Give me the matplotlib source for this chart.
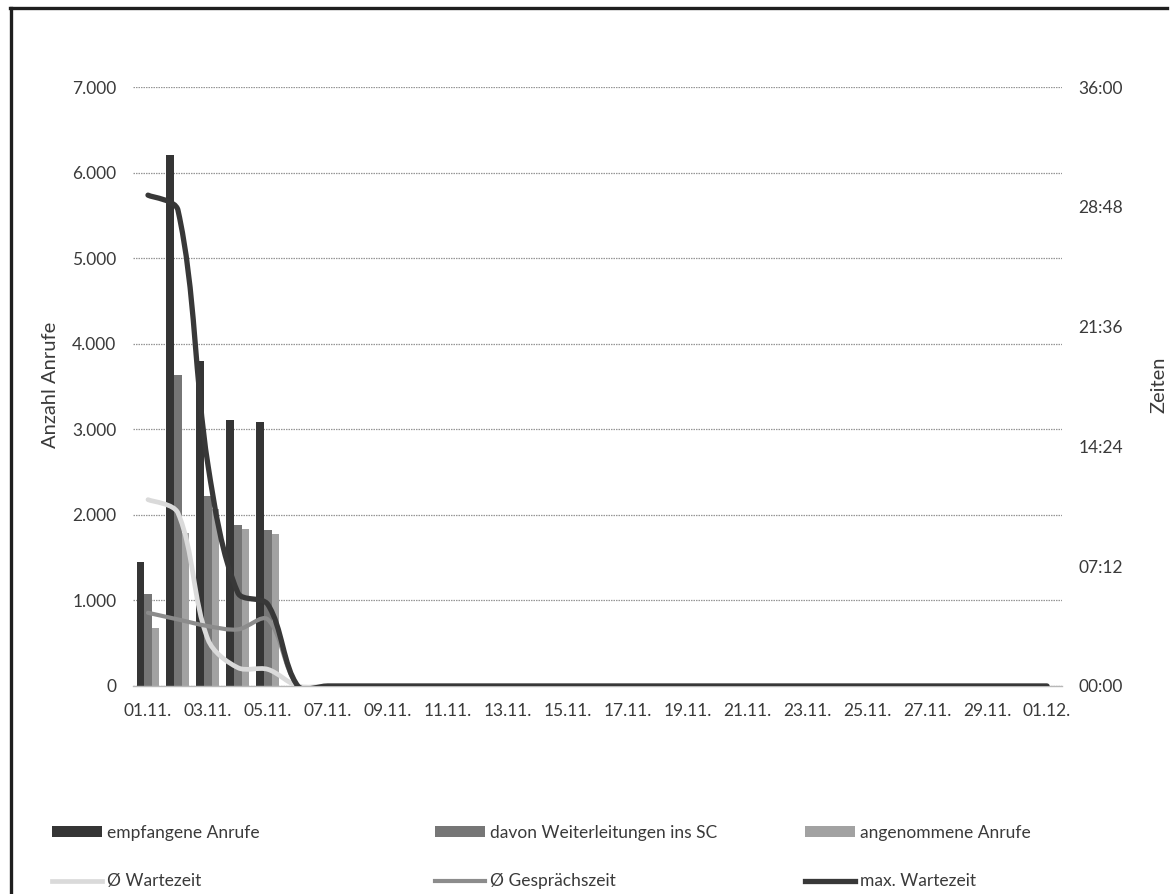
import matplotlib
matplotlib.use("Agg")
import matplotlib.pyplot as plt
from matplotlib.path import Path
from matplotlib.patches import PathPatch, Patch
from matplotlib.lines import Line2D
from matplotlib.ticker import FixedLocator, FuncFormatter
import numpy as np

plt.rcParams["font.family"] = ["Lato", "DejaVu Sans"]

# --- data -------------------------------------------------------------------
tage = ["01.11.", "02.11.", "03.11.", "04.11.", "05.11.", "06.11.", "07.11.",
        "08.11.", "09.11.", "10.11.", "11.11.", "12.11.", "13.11.", "14.11.",
        "15.11.", "16.11.", "17.11.", "18.11.", "19.11.", "20.11.", "21.11.",
        "22.11.", "23.11.", "24.11.", "25.11.", "26.11.", "27.11.", "28.11.",
        "29.11.", "30.11.", "01.12."]

empfangene_anrufe = [1450, 6210, 3800, 3110, 3090, 0, 0, 0, 0, 0, 0, 0, 0, 0, 0, 0,
                     0, 0, 0, 0, 0, 0, 0, 0, 0, 0, 0, 0, 0, 0, 0]
weiterleitungen_sc = [1070, 3630, 2220, 1880, 1820, 0, 0, 0, 0, 0, 0, 0, 0, 0, 0, 0,
                      0, 0, 0, 0, 0, 0, 0, 0, 0, 0, 0, 0, 0, 0, 0]
angenommene_anrufe = [680, 1790, 2070, 1830, 1780, 0, 0, 0, 0, 0, 0, 0, 0, 0, 0, 0,
                      0, 0, 0, 0, 0, 0, 0, 0, 0, 0, 0, 0, 0, 0, 0]

# times in hours
wartezeit_avg = [11.2, 10.4, 2.8, 1.1, 1.0, 0, 0, 0, 0, 0, 0, 0, 0, 0, 0, 0,
                 0, 0, 0, 0, 0, 0, 0, 0, 0, 0, 0, 0, 0, 0, 0]
gespraechszeit_avg = [4.4, 4.0, 3.6, 3.4, 4.0, 0, 0, 0, 0, 0, 0, 0, 0, 0, 0, 0,
                      0, 0, 0, 0, 0, 0, 0, 0, 0, 0, 0, 0, 0, 0, 0]
wartezeit_max = [29.5, 28.6, 13.3, 5.6, 4.9, 0, 0, 0, 0, 0, 0, 0, 0, 0, 0, 0,
                 0, 0, 0, 0, 0, 0, 0, 0, 0, 0, 0, 0, 0, 0, 0]

# --- styling ----------------------------------------------------------------
TXT = "#3a3a3a"
C_EMPF = "#353535"
C_WEIT = "#767676"
C_ANGE = "#a2a2a2"
C_WART = "#dadada"
C_GESP = "#8c8c8c"
C_MAX = "#383838"

W, H = 1171, 894
fig = plt.figure(figsize=(W / 100, H / 100), dpi=100)
fig.patch.set_facecolor("white")

x0, x1, y_bot, y_top = 133, 1062, 686, 87
ax = fig.add_axes([x0 / W, 1 - y_bot / H, (x1 - x0) / W, (y_bot - y_top) / H])
ax2 = ax.twinx()

n = len(tage)
x = np.arange(n)
bw = 0.255

ax.bar(x - bw, empfangene_anrufe, bw, color=C_EMPF, zorder=2)
ax.bar(x, weiterleitungen_sc, bw, color=C_WEIT, zorder=2)
ax.bar(x + bw, angenommene_anrufe, bw, color=C_ANGE, zorder=2)

ax.set_xlim(-0.5, n - 0.5)
ax.set_ylim(0, 7000)
ax.yaxis.set_major_locator(FixedLocator(np.arange(0, 7001, 1000)))
ax.yaxis.set_major_formatter(FuncFormatter(lambda v, p: f"{v:,.0f}".replace(",", ".")))
ax.grid(axis="y", color="#959595", linestyle=(0, (1.2, 0.8)), linewidth=0.9, zorder=0)
ax.set_axisbelow(True)

ax.set_xticks(x[::2])
ax.set_xticklabels(tage[::2])

for a in (ax, ax2):
    for s in a.spines.values():
        s.set_visible(False)
ax.spines["bottom"].set_visible(True)
ax.spines["bottom"].set_color("#b8b8b8")
ax.spines["bottom"].set_linewidth(1.0)

ax.tick_params(axis="both", length=0, labelsize=12.5, labelcolor=TXT)
ax.tick_params(axis="y", pad=12)
ax.tick_params(axis="x", pad=12)

ax2.set_ylim(0, 1.5)


def smooth_path(a, xs, ys, k=1 / 3):
    """Bezier path through the points; tangents weighted by on-screen segment length."""
    pts = a.transData.transform(np.column_stack([xs, ys]))
    m = len(pts)
    seg = np.hypot(*np.diff(pts, axis=0).T)
    verts = [pts[0]]
    codes = [Path.MOVETO]
    for i in range(m - 1):
        p, q = pts[i], pts[i + 1]
        if i > 0:
            f = k * seg[i] / (seg[i - 1] + seg[i])
            c1 = p + (q - pts[i - 1]) * f
        else:
            c1 = p + (q - p) * k / 2
        if i + 2 < m:
            f = k * seg[i] / (seg[i] + seg[i + 1])
            c2 = q - (pts[i + 2] - p) * f
        else:
            c2 = q - (q - p) * k / 2
        verts += [c1, c2, q]
        codes += [Path.CURVE4] * 3
    verts = a.transData.inverted().transform(np.array(verts))
    return Path(verts, codes)


def to_days(hours):
    return [h / 24 for h in hours]


for vals, col, lw in [(wartezeit_avg, C_WART, 3.4),
                      (gespraechszeit_avg, C_GESP, 3.0),
                      (wartezeit_max, C_MAX, 3.8)]:
    p = smooth_path(ax2, x.astype(float), to_days(vals))
    ax2.add_patch(PathPatch(p, fill=False, edgecolor=col, linewidth=lw,
                            capstyle="round", joinstyle="round"))

ax2.yaxis.set_major_locator(FixedLocator(np.arange(0, 1.51, 0.3)))


def fmt_time(v, p):
    mins = int(round(v * 1440))
    return f"{mins // 60:02d}:{mins % 60:02d}"


ax2.yaxis.set_major_formatter(FuncFormatter(fmt_time))
ax2.tick_params(axis="y", length=0, labelsize=12.5, labelcolor=TXT, pad=12)

fig.text(50 / W, 1 - 385 / H, "Anzahl Anrufe", rotation=90, ha="center", va="center",
         fontsize=14.5, color=TXT)
fig.text(1159 / W, 1 - 385 / H, "Zeiten", rotation=90, ha="center", va="center",
         fontsize=14.5, color=TXT)

# --- legend: three columns, two rows --------------------------------------
columns = [
    [(Patch(facecolor=C_EMPF), "empfangene Anrufe"),
     (Line2D([], [], color=C_WART, lw=3.4), "Ø Wartezeit")],
    [(Patch(facecolor=C_WEIT), "davon Weiterleitungen ins SC"),
     (Line2D([], [], color=C_GESP, lw=3.0), "Ø Gesprächszeit")],
    [(Patch(facecolor=C_ANGE), "angenommene Anrufe"),
     (Line2D([], [], color=C_MAX, lw=3.8), "max. Wartezeit")],
]
for xs_, col in zip([52, 435, 805], columns):
    fig.legend([h for h, _ in col], [l for _, l in col], loc="center left",
               bbox_to_anchor=(xs_ / W, 1 - 857 / H), frameon=False,
               fontsize=12.5, labelcolor=TXT, handlelength=2.9, handleheight=0.6,
               handletextpad=0.25, labelspacing=1.88, borderpad=0, borderaxespad=0)

# outer frame (top and left edges)
fig.add_artist(Line2D([10 / W, 1167 / W], [1 - 8 / H, 1 - 8 / H], color="#1e1e1e", lw=2.4,
                      transform=fig.transFigure))
fig.add_artist(Line2D([11 / W, 11 / W], [1 - 8 / H, 0], color="#1e1e1e", lw=2.4,
                      transform=fig.transFigure))

fig.savefig("out.png", dpi=100)
